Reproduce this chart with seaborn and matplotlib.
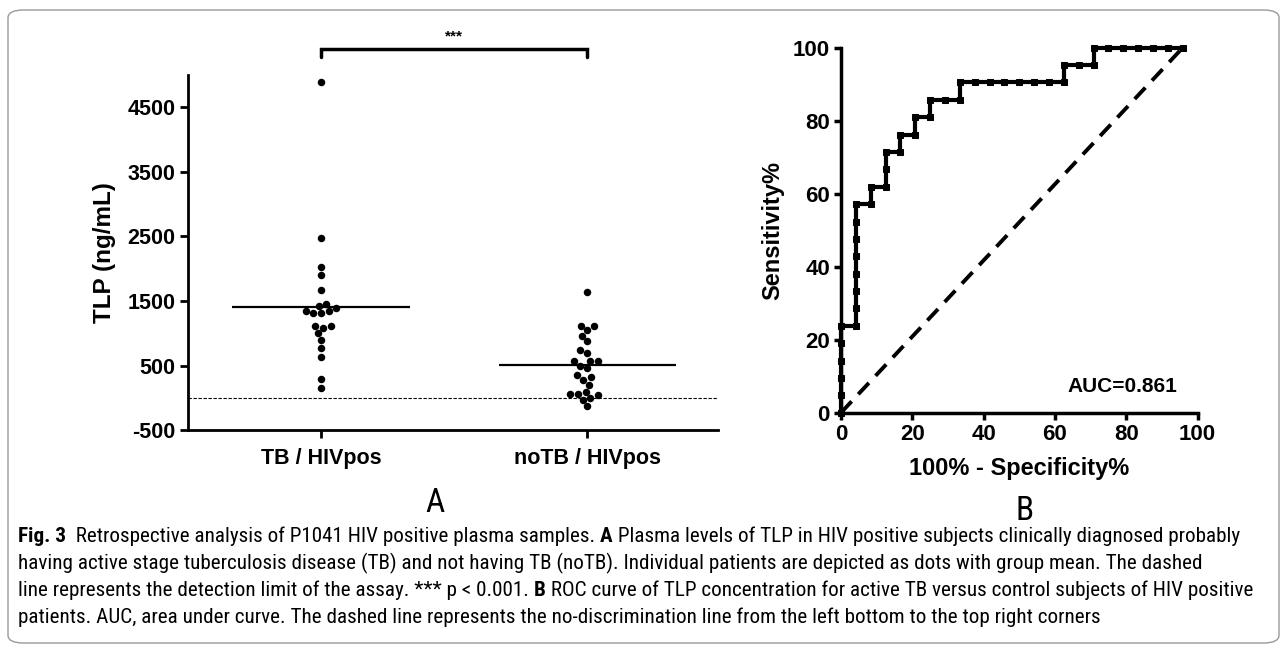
import numpy as np
import pandas as pd
import seaborn as sns
import matplotlib
matplotlib.use("Agg")
import matplotlib.pyplot as plt
from matplotlib.patches import FancyBboxPatch
import matplotlib.font_manager as fm

# ---------------- data ----------------
categories = ["TB / HIVpos", "noTB / HIVpos"]
tb_values = [4890, 2480, 2025, 1895, 1665, 1455, 1430, 1390, 1320, 1320, 1340,
             1340, 1085, 1110, 1110, 1000, 895, 775, 640, 295, 160]
notb_values = [1645, 1115, 1115, 1050, 960, 880, 690, 740, 570, 575, 575, 500,
               460, 320, 355, 280, 200, 60, 5, 55, 95, 45, -30, -125]
detection_limit = 0
yticks_a = [-500, 500, 1500, 2500, 3500, 4500]
signif_label = "***"

roc_fpr = [0, 0, 0, 0, 0, 0,
           4.17, 4.17, 4.17, 4.17, 4.17, 4.17, 4.17, 4.17,
           8.33, 8.33, 12.5, 12.5, 12.5, 16.67, 16.67, 20.83, 20.83,
           25.0, 25.0, 29.17, 33.33, 33.33, 37.5, 41.67, 45.83, 50.0,
           54.17, 58.33, 62.5, 62.5, 66.67, 70.83, 70.83, 75.0, 79.17,
           83.33, 87.5, 91.67, 95.83]
roc_tpr = [0, 4.76, 9.52, 14.29, 19.05, 23.81,
           23.81, 28.57, 33.33, 38.1, 42.86, 47.62, 52.38, 57.14,
           57.14, 61.9, 61.9, 66.67, 71.43, 71.43, 76.19, 76.19, 80.95,
           80.95, 85.71, 85.71, 85.71, 90.48, 90.48, 90.48, 90.48, 90.48,
           90.48, 90.48, 90.48, 95.24, 95.24, 95.24, 100, 100, 100,
           100, 100, 100, 100]
diag_x = [0, 95.83]
diag_y = [0, 100]
ticks_b = [0, 20, 40, 60, 80, 100]
auc_label = "AUC=0.861"

caption_lines = [
    [("Fig. 3", True), ("  Retrospective analysis of P1041 HIV positive plasma samples. ", False),
     ("A", True), (" Plasma levels of TLP in HIV positive subjects clinically diagnosed probably", False)],
    [("having active stage tuberculosis disease (TB) and not having TB (noTB). Individual patients are depicted as dots with group mean. The dashed", False)],
    [("line represents the detection limit of the assay. *** p < 0.001. ", False), ("B", True),
     (" ROC curve of TLP concentration for active TB versus control subjects of HIV positive", False)],
    [("patients. AUC, area under curve. The dashed line represents the no-discrimination line from the left bottom to the top right corners", False)],
]

# ---------------- style ----------------
sns.set_theme(style="ticks")
plt.rcParams["font.family"] = ["Liberation Sans", "DejaVu Sans"]
plt.rcParams["axes.unicode_minus"] = False
for k in ["text.color", "axes.labelcolor", "xtick.color", "ytick.color", "axes.edgecolor"]:
    plt.rcParams[k] = "black"

# find a condensed font for the caption, if any is installed
def pick_condensed():
    regs, bolds = {}, {}
    for f in fm.fontManager.ttflist:
        nm = f.name
        low = (nm + " " + str(f.stretch) + " " + f.fname).lower()
        if ("condensed" in low or "narrow" in low) and "semicondensed" not in low.replace(" ", "") \
                and f.style == "normal":
            w = f.weight if isinstance(f.weight, int) else (700 if "bold" in str(f.weight) else 400)
            key = nm
            if w >= 600:
                bolds.setdefault(key, f.fname)
            elif 350 <= w <= 450:
                regs.setdefault(key, f.fname)
    for pref in ["Liberation Sans Narrow", "Open Sans Condensed", "Roboto Condensed",
                 "Noto Sans Condensed", "DejaVu Sans Condensed", "DejaVu Sans"]:
        if pref in regs:
            return regs[pref], bolds.get(pref, regs[pref])
    if regs:
        k = sorted(regs)[0]
        return regs[k], bolds.get(k, regs[k])
    return None, None

reg_file, bold_file = pick_condensed()

def cap_props(size, bold):
    if reg_file:
        return fm.FontProperties(fname=bold_file if bold else reg_file, size=size)
    return fm.FontProperties(family=["Liberation Sans", "DejaVu Sans"], size=size,
                             weight="bold" if bold else "normal")

W, H = 1287, 651
fig = plt.figure(figsize=(W / 100, H / 100), dpi=100)
fig.patch.set_facecolor("white")

# rounded frame
frame = FancyBboxPatch((8 / W, 8 / H), (W - 16) / W, (H - 18) / H,
                       boxstyle="round,pad=0,rounding_size=0.012",
                       transform=fig.transFigure, fill=False,
                       edgecolor="#9a9a9a", lw=1.0)
fig.add_artist(frame)

# ---------------- panel A ----------------
df = pd.DataFrame({
    "group": [categories[0]] * len(tb_values) + [categories[1]] * len(notb_values),
    "value": tb_values + notb_values,
})
axA = fig.add_axes([188 / W, 1 - 430.4 / H, (718 - 188) / W, (430.4 - 74.5) / H])
sns.swarmplot(data=df, x="group", y="value", order=categories, color="black",
              size=5.4, ax=axA)
for i, vals in enumerate([tb_values, notb_values]):
    axA.hlines(np.mean(vals), i - 0.333, i + 0.333, color="black", lw=1.6, zorder=3)
axA.axhline(detection_limit, color="black", lw=0.8, ls=(0, (3, 1.5)), zorder=1)
axA.set_xlim(-0.5, 1.49)
axA.set_ylim(-500, 5000)
axA.set_yticks(yticks_a)
axA.set_xlabel("")
axA.set_ylabel("TLP (ng/mL)", fontsize=17.5, fontweight="bold", labelpad=8)
sns.despine(ax=axA)
for s in ["left", "bottom"]:
    axA.spines[s].set_linewidth(2)
axA.tick_params(axis="both", width=2, length=6, labelsize=15.5, pad=3)
axA.tick_params(axis="x", pad=7, labelsize=15.5)
for lab in axA.get_xticklabels() + axA.get_yticklabels():
    lab.set_fontweight("bold")

# significance bracket
axA.plot([0, 0, 1, 1], [5266, 5394, 5394, 5266], color="black", lw=2.5,
         clip_on=False, solid_joinstyle="miter")
axA.text(0.5, 5595, signif_label, ha="center", va="center", fontsize=11,
         fontweight="bold", clip_on=False)

# ---------------- panel B ----------------
axB = fig.add_axes([841 / W, 1 - 412.7 / H, (1197.6 - 841) / W, (412.7 - 47.7) / H])
roc_df = pd.DataFrame({"fpr": roc_fpr, "tpr": roc_tpr})
sns.lineplot(data=roc_df, x="fpr", y="tpr", sort=False, estimator=None,
             color="black", lw=3, marker="s", markersize=4.8,
             markeredgecolor="black", ax=axB, clip_on=False, zorder=3)
sns.lineplot(x=diag_x, y=diag_y, sort=False, estimator=None, color="black",
             lw=2.8, ax=axB, clip_on=False)
axB.lines[-1].set_dashes([4, 2.5])
axB.set_xlim(0, 100)
axB.set_ylim(0, 100)
axB.set_xticks(ticks_b)
axB.set_yticks(ticks_b)
axB.set_xlabel("100% - Specificity%", fontsize=17, fontweight="bold", labelpad=9)
axB.set_ylabel("Sensitivity%", fontsize=17, fontweight="bold", labelpad=6)
sns.despine(ax=axB)
for s in ["left", "bottom"]:
    axB.spines[s].set_linewidth(2.5)
axB.tick_params(axis="both", width=2.5, length=5, labelsize=16, pad=3)
for lab in axB.get_xticklabels() + axB.get_yticklabels():
    lab.set_fontweight("bold")
axB.text(79, 7.3, auc_label, ha="center", va="center", fontsize=15, fontweight="bold")

# panel letters
fig.text(435 / W, 1 - 503 / H, "A", ha="center", va="center",
         fontproperties=cap_props(24, False))
fig.text(1025 / W, 1 - 511 / H, "B", ha="center", va="center",
         fontproperties=cap_props(24, False))

# ---------------- caption ----------------
renderer = fig.canvas.get_renderer()

def text_width(s, size, bold):
    t1 = fig.text(0, 0, "|" + s + "|", fontproperties=cap_props(size, bold))
    t2 = fig.text(0, 0, "||", fontproperties=cap_props(size, bold))
    w = t1.get_window_extent(renderer).width - t2.get_window_extent(renderer).width
    t1.remove(); t2.remove()
    return w

# fit the longest caption line to the reference text width
base = 12
wmax = max(sum(text_width(s, base, b) for s, b in line) for line in caption_lines)
cap_size = base * (1254 - 18) / wmax

y_lines = [536, 563, 590, 617]
for line, yy in zip(caption_lines, y_lines):
    x = 18.0
    for s, b in line:
        fig.text(x / W, 1 - yy / H, s, ha="left", va="center",
                 fontproperties=cap_props(cap_size, b))
        x += text_width(s, cap_size, b)

fig.savefig("out.png", dpi=100)
